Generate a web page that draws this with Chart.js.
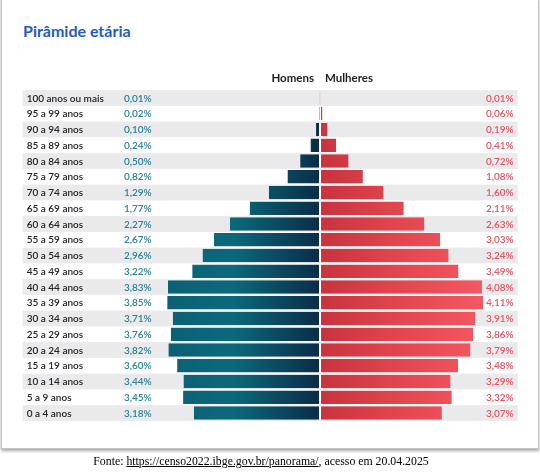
<!DOCTYPE html>
<html>
<head>
<meta charset="utf-8">
<script src="https://cdn.jsdelivr.net/npm/chart.js@4"></script>
<style>
  body { margin: 0; background: #fff; width: 540px; height: 473px; overflow: hidden; position: relative; }
  .card {
    position: absolute; left: 1px; top: -3px; width: 536px; height: 450px;
    border: 1px solid #c4c4c4; box-shadow: 0 2px 3px rgba(0,0,0,0.35); background: #fff;
  }
  .titulo {
    position: absolute; left: 23px; top: 21px; margin: 0;
    font: bold 16px Lato, sans-serif; color: #1e5bc6;
  }
  #grafico { position: absolute; left: 0; top: 0; }
  .fonte {
    position: absolute; left: 0; width: 522px; top: 454px; text-align: center;
    font: 11.8px "Liberation Serif", "Times New Roman", serif; color: #000;
  }
  .fonte a { color: #000; }
</style>
</head>
<body>
<div class="card"></div>
<h1 class="titulo">Pirâmide etária</h1>
<canvas id="grafico" width="540" height="473"></canvas>
<div class="fonte">Fonte: <a href="#">https://censo2022.ibge.gov.br/panorama/</a>, acesso em 20.04.2025</div>

<script>
// Dados
const faixas = ['100 anos ou mais', '95 a 99 anos', '90 a 94 anos', '85 a 89 anos', '80 a 84 anos',
    '75 a 79 anos', '70 a 74 anos', '65 a 69 anos', '60 a 64 anos', '55 a 59 anos', '50 a 54 anos',
    '45 a 49 anos', '40 a 44 anos', '35 a 39 anos', '30 a 34 anos', '25 a 29 anos', '20 a 24 anos',
    '15 a 19 anos', '10 a 14 anos', '5 a 9 anos', '0 a 4 anos'];
const homens = [0.01, 0.02, 0.10, 0.24, 0.50, 0.82, 1.29, 1.77, 2.27, 2.67, 2.96,
    3.22, 3.83, 3.85, 3.71, 3.76, 3.82, 3.60, 3.44, 3.45, 3.18];
const mulheres = [0.01, 0.06, 0.19, 0.41, 0.72, 1.08, 1.60, 2.11, 2.63, 3.03, 3.24,
    3.49, 4.08, 4.11, 3.91, 3.86, 3.79, 3.48, 3.29, 3.32, 3.07];

function fmt(v) {
    return v.toFixed(2).replace('.', ',') + '%';
}

// Gradientes das barras
function gradHomens(context) {
    const chart = context.chart;
    const x = chart.scales.x;
    if (!chart.chartArea || !x) return '#0b5f73';
    const a = x.getPixelForValue(-4), b = x.getPixelForValue(0);
    if (!isFinite(a) || !isFinite(b)) return '#0b5f73';
    const g = chart.ctx.createLinearGradient(a, 0, b, 0);
    g.addColorStop(0, '#0d5f73');
    g.addColorStop(0.45, '#0b697c');
    g.addColorStop(1, '#0a2d48');
    return g;
}

function gradMulheres(context) {
    const chart = context.chart;
    const x = chart.scales.x;
    if (!chart.chartArea || !x) return '#e04650';
    const a = x.getPixelForValue(0), b = x.getPixelForValue(4.1);
    if (!isFinite(a) || !isFinite(b)) return '#e04650';
    const g = chart.ctx.createLinearGradient(a, 0, b, 0);
    g.addColorStop(0, '#c8333d');
    g.addColorStop(0.5, '#e4464f');
    g.addColorStop(1, '#f55862');
    return g;
}

// Faixas cinzas + textos
const piramidePlugin = {
    id: 'piramide',
    beforeDatasetsDraw(chart) {
        const { ctx, chartArea, scales: { y } } = chart;
        const passo = y.getPixelForValue(1) - y.getPixelForValue(0);
        ctx.save();
        ctx.fillStyle = '#eaeaed';
        faixas.forEach((f, i) => {
            if (i % 2 === 0) {
                const cy = y.getPixelForValue(i);
                ctx.fillRect(chartArea.left, cy - passo / 2, chartArea.right - chartArea.left, passo);
            }
        });
        ctx.restore();
    },
    afterDatasetsDraw(chart) {
        const { ctx, chartArea, scales: { x, y } } = chart;
        ctx.save();
        ctx.textBaseline = 'middle';
        faixas.forEach((f, i) => {
            const cy = y.getPixelForValue(i) + 0.5;
            ctx.font = '600 10px Lato, sans-serif';
            ctx.fillStyle = '#222222';
            ctx.textAlign = 'left';
            ctx.fillText(f, chartArea.left + 4, cy);
            ctx.font = '600 10px Lato, sans-serif';
            ctx.fillStyle = '#2b8292';
            ctx.textAlign = 'right';
            ctx.fillText(fmt(homens[i]), chartArea.left + 129, cy);
            ctx.fillStyle = '#ea525e';
            ctx.fillText(fmt(mulheres[i]), chartArea.right - 4, cy);
        });
        // cabeçalho
        const cx = x.getPixelForValue(0);
        ctx.font = 'bold 11.5px Lato, sans-serif';
        ctx.fillStyle = '#1f1f1f';
        ctx.textAlign = 'right';
        ctx.fillText('Homens', cx - 6, chartArea.top - 12);
        ctx.textAlign = 'left';
        ctx.fillText('Mulheres', cx + 5, chartArea.top - 12);
        ctx.restore();
    }
};

const ctx = document.getElementById('grafico').getContext('2d');
new Chart(ctx, {
    type: 'bar',
    data: {
        labels: faixas,
        datasets: [{
            label: 'Homens',
            data: homens.map(v => -v),
            backgroundColor: gradHomens,
            borderColor: '#ffffff',
            borderWidth: { right: 1 },
            borderSkipped: false,
            barPercentage: 0.85,
            categoryPercentage: 1
        }, {
            label: 'Mulheres',
            data: mulheres,
            backgroundColor: gradMulheres,
            borderColor: '#ffffff',
            borderWidth: { left: 1 },
            borderSkipped: false,
            barPercentage: 0.85,
            categoryPercentage: 1
        }]
    },
    options: {
        indexAxis: 'y',
        responsive: false,
        animation: false,
        layout: { padding: { left: 22.7, right: 22.3, top: 90.1, bottom: 52.1 } },
        plugins: { legend: { display: false }, tooltip: { enabled: false } },
        scales: {
            x: { stacked: true, display: false, min: -7.49, max: 4.98 },
            y: { stacked: true, display: false }
        }
    },
    plugins: [piramidePlugin]
});
</script>
</body>
</html>
